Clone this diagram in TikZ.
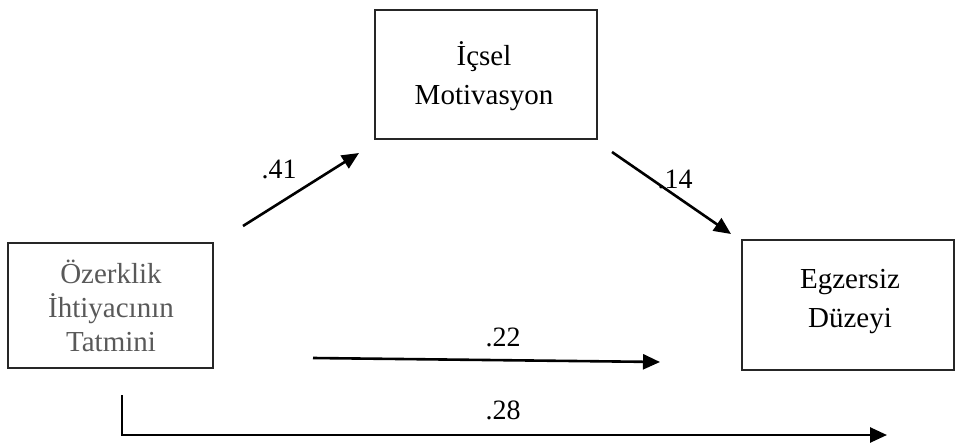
\documentclass[tikz,border=0pt]{standalone}
\usepackage{fontspec}
\setmainfont{Liberation Serif}
\usetikzlibrary{arrows.meta}
\definecolor{txtgray}{HTML}{595959}
\begin{document}
\begin{tikzpicture}[x=1pt,y=-1pt,
  frame/.style={draw=black!85,line width=1.2pt},
  boxtext/.style={inner sep=0pt,align=center,font=\fontsize{29}{39}\selectfont},
  lbl/.style={font=\fontsize{28}{30}\selectfont,inner sep=0pt},
  arr/.style={line width=2.6pt,-{Triangle[length=17pt,width=15pt]}}]
\useasboundingbox (0,0) rectangle (956,447);
\draw[frame] (8,243) rectangle (213,368);
\node[boxtext,text=txtgray,font=\fontsize{29}{34}\selectfont] (auto) at (111,306) {Özerklik\\İhtiyacının\\Tatmini};
\draw[frame] (375,10) rectangle (597,139);
\node[boxtext] (mot) at (484,76) {İçsel\\Motivasyon};
\draw[frame] (742,240) rectangle (954,370);
\node[boxtext] (ex) at (850,302) {Egzersiz\\Düzeyi};
\coordinate (a1s) at (243,226);
\coordinate (a1e) at (359,153);
\coordinate (a2s) at (612,152);
\coordinate (a2e) at (731,234);
\coordinate (a3s) at (313,358);
\coordinate (a3e) at (660,362);
\coordinate (a4s) at (122,395);
\coordinate (a4c) at (122,435);
\coordinate (a4e) at (887,435);
\draw[arr] (a1s) -- (a1e);
\draw[arr] (a2s) -- (a2e);
\draw[arr] (a3s) -- (a3e);
\draw[arr] (a4s) -- (a4c) -- (a4e);
\node[lbl] (l41) at (279,169) {.41};
\node[lbl] (l14) at (675,179) {.14};
\node[lbl] (l22) at (503,337) {.22};
\node[lbl] (l28) at (503,410) {.28};
\end{tikzpicture}
\end{document}
